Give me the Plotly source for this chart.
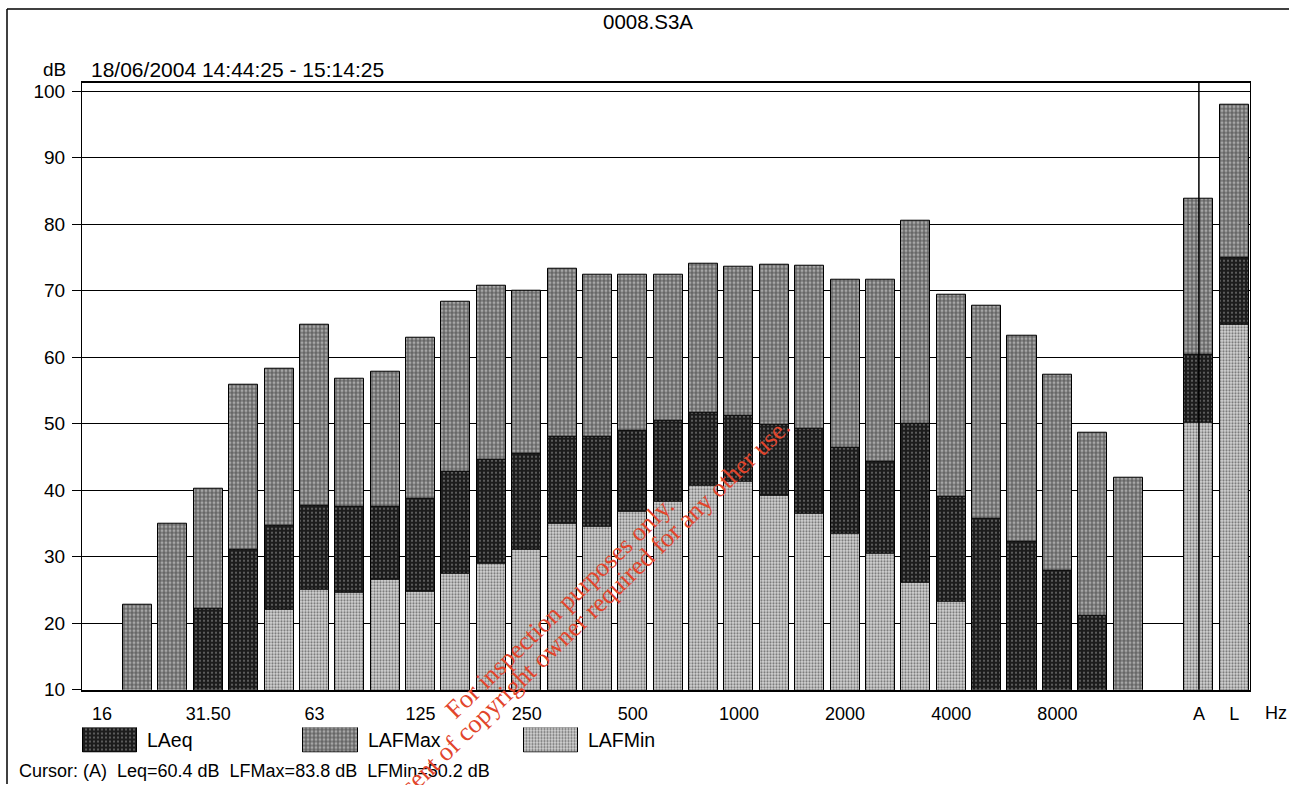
import plotly.graph_objects as go

# ---------------- data ----------------
bands = ["16", "20", "25", "31.5", "40", "50", "63", "80", "100", "125", "160",
         "200", "250", "315", "400", "500", "630", "800", "1000", "1250", "1600",
         "2000", "2500", "3150", "4000", "5000", "6300", "8000", "10000", "12500",
         "16000", "A", "L"]

lafmax = [None, 22.8, 35.0, 40.2, 55.8, 58.3, 64.9, 56.7, 57.8, 62.9, 68.3,
          70.7, 70.0, 73.3, 72.4, 72.4, 72.4, 74.0, 73.6, 73.9, 73.8,
          71.6, 71.6, 80.5, 69.4, 67.7, 63.2, 57.3, 48.7, 41.8,
          None, 83.8, 98.0]

laeq = [None, None, None, 22.2, 31.1, 34.7, 37.7, 37.5, 37.5, 38.7, 42.7,
        44.6, 45.5, 48.1, 48.1, 48.9, 50.5, 51.6, 51.2, 49.8, 49.2,
        46.4, 44.2, 50.0, 39.0, 35.7, 32.2, 27.9, 21.1, None,
        None, 60.4, 75.0]

lafmin = [None, None, None, None, None, 22.0, 25.0, 24.6, 26.6, 24.7, 27.5,
          29.0, 31.0, 34.9, 34.5, 36.7, 38.2, 40.6, 41.2, 39.1, 36.5,
          33.4, 30.4, 26.1, 23.2, None, None, None, None, None,
          None, 50.2, 64.8]

tick_bands = ["16", "31.5", "63", "125", "250", "500", "1000", "2000", "4000", "8000", "A", "L"]
tick_text = ["16", "31.50", "63", "125", "250", "500", "1000", "2000", "4000", "8000", "A", "L"]

legend_names = ["LAeq", "LAFMax", "LAFMin"]

title_text = "0008.S3A"
period_text = "18/06/2004 14:44:25 - 15:14:25"
cursor_text = "Cursor: (A)  Leq=60.4 dB  LFMax=83.8 dB  LFMin=50.2 dB"
watermark_1 = "For inspection purposes only."
watermark_2 = "Consent of copyright owner required for any other use."

# ---------------- layout helpers ----------------
SY = 0.987                   # vertical scale seen in the photographed page
W = 1289
H = round(785 / SY)
FONT = "Liberation Sans, Arial, sans-serif"

styles = {
    "LAFMax": dict(shape="+", bgcolor="#a6a6a6", fgcolor="#000000", size=4, solidity=0.45),
    "LAeq": dict(shape=".", bgcolor="#1c1c1c", fgcolor="#b8b8b8", size=4, solidity=0.22),
    "LAFMin": dict(shape=".", bgcolor="#d6d6d6", fgcolor="#000000", size=3, solidity=0.42),
}

def px_x(p):
    return p / W

def px_y(p):
    return (H - p / SY) / H

fig = go.Figure()

series = [("LAFMax", lafmax), ("LAeq", laeq), ("LAFMin", lafmin)]
for name, vals in series:
    fig.add_trace(go.Bar(
        x=bands, y=vals, name=name, width=0.82,
        marker=dict(color=styles[name]["bgcolor"],
                    pattern=styles[name],
                    line=dict(color="black", width=1)),
        showlegend=False, hoverinfo="x+y+name",
    ))

# legend swatches drawn as bars in a small subplot
for name in legend_names:
    fig.add_trace(go.Bar(
        x=[name], y=[1], width=0.245, xaxis="x2", yaxis="y2",
        marker=dict(color=styles[name]["bgcolor"], pattern=styles[name],
                    line=dict(color="black", width=1)),
        showlegend=False, hoverinfo="skip",
    ))

step = 35.38
r0 = 1 - (137.5 - 82) / step
r1 = r0 + (1250 - 82) / step
lstep = 220.5
lr0 = -110.0 / lstep
lr1 = lr0 + W / lstep

fig.update_layout(
    width=W, height=H,
    margin=dict(l=0, r=0, t=0, b=0),
    paper_bgcolor="white", plot_bgcolor="white",
    barmode="overlay", bargap=0,
    font=dict(family=FONT, size=18, color="black"),
    showlegend=False,
    xaxis=dict(
        domain=[px_x(82), px_x(1250)],
        type="category", categoryorder="array", categoryarray=bands,
        range=[r0, r1],
        tickmode="array", tickvals=tick_bands, ticktext=tick_text,
        ticks="", ticklabelstandoff=7,
        tickfont=dict(size=18),
        showgrid=False, zeroline=False,
        showline=True, linecolor="black", linewidth=2, mirror=True,
    ),
    yaxis=dict(
        domain=[px_y(690), px_y(81)],
        range=[10, 101.25],
        tickmode="array", tickvals=list(range(10, 101, 10)),
        ticks="outside", ticklen=9, tickcolor="black", tickwidth=1,
        ticklabelstandoff=3,
        tickfont=dict(size=19),
        showgrid=True, gridcolor="black", gridwidth=1,
        zeroline=False,
        showline=True, linecolor="black", linewidth=1, mirror=True,
    ),
    xaxis2=dict(domain=[0, 1], anchor="y2", range=[lr0, lr1], type="category",
                categoryorder="array", categoryarray=legend_names,
                visible=False, fixedrange=True),
    yaxis2=dict(domain=[px_y(753), px_y(728)], anchor="x2", range=[0, 1],
                visible=False, fixedrange=True),
)

ann = []
ann.append(dict(text=title_text, x=px_x(648), y=px_y(20), xref="paper", yref="paper",
                xanchor="center", yanchor="middle", showarrow=False, font=dict(size=20.5)))
ann.append(dict(text="dB", x=px_x(68), y=px_y(68), xref="paper", yref="paper",
                xanchor="right", yanchor="middle", showarrow=False, font=dict(size=19)))
ann.append(dict(text=period_text, x=px_x(89), y=px_y(68), xref="paper", yref="paper",
                xanchor="left", yanchor="middle", showarrow=False, font=dict(size=21)))
ann.append(dict(text="Hz", x=px_x(1263), y=px_y(713), xref="paper", yref="paper",
                xanchor="left", yanchor="middle", showarrow=False, font=dict(size=18)))
ann.append(dict(text=cursor_text, x=px_x(17), y=px_y(772), xref="paper", yref="paper",
                xanchor="left", yanchor="middle", showarrow=False, font=dict(size=18)))
for i, name in enumerate(legend_names):
    ann.append(dict(text=name, x=i + 0.1225, y=0.5, xref="x2", yref="y2 domain",
                    xanchor="left", yanchor="middle", xshift=8, showarrow=False,
                    font=dict(size=19.5)))
wm_font = dict(family="Liberation Serif, Times New Roman, serif", size=26, color="#e2452c")
ann.append(dict(text=watermark_1, x=px_x(560), y=px_y(608), xref="paper", yref="paper",
                xanchor="center", yanchor="middle", showarrow=False, textangle=-44,
                font=wm_font))
ann.append(dict(text=watermark_2, x=px_x(580), y=px_y(622), xref="paper", yref="paper",
                xanchor="center", yanchor="middle", showarrow=False, textangle=-44,
                font=wm_font))
fig.update_layout(annotations=ann)

a_idx = bands.index("A")
fig.update_layout(shapes=[
    # cursor line at A
    dict(type="line", xref="x", yref="y domain", x0=a_idx, x1=a_idx, y0=0, y1=1,
         line=dict(color="black", width=1.5), layer="above"),
    # outer page border (top and left)
    dict(type="line", xref="paper", yref="paper", x0=px_x(7), x1=1, y0=px_y(7), y1=px_y(7),
         line=dict(color="black", width=1.5)),
    dict(type="line", xref="paper", yref="paper", x0=px_x(7), x1=px_x(7), y0=0, y1=px_y(7),
         line=dict(color="black", width=1.5)),
])

page_css = (
    "document.documentElement.style.margin='0';"
    "document.documentElement.style.padding='0';"
    "document.body.style.margin='0';"
    "document.body.style.padding='0';"
    "document.querySelectorAll('.svg-container').forEach(function(e){e.style.overflow='hidden';});"
    "document.querySelectorAll('.main-svg').forEach(function(e){e.style.overflow='hidden';});"
)

fig.write_html(
    "out.html",
    config={"displayModeBar": False},
    post_script=page_css,
)
